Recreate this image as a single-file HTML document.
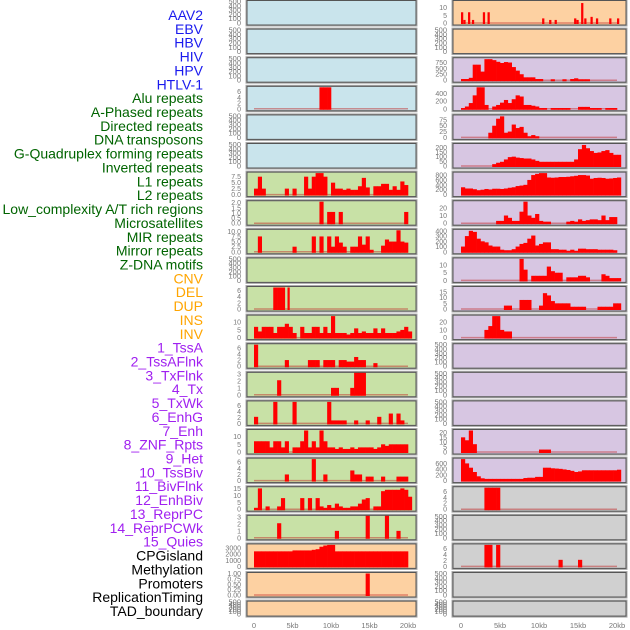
<!DOCTYPE html>
<html><head><meta charset="utf-8"><style>
html,body{margin:0;padding:0;background:#fff;width:630px;height:630px;overflow:hidden}
svg{display:block}
text{font-family:"Liberation Sans",sans-serif}
</style></head><body>
<svg id="chart" width="630" height="630" viewBox="0 0 630 630" xmlns="http://www.w3.org/2000/svg"></svg>
<script>
// ---- labels ----
const featureLabels = ["AAV2","EBV","HBV","HIV","HPV","HTLV-1","Alu repeats","A-Phased repeats","Directed repeats","DNA transposons","G-Quadruplex forming repeats","Inverted repeats","L1 repeats","L2 repeats","Low_complexity A/T rich regions","Microsatellites","MIR repeats","Mirror repeats","Z-DNA motifs","CNV","DEL","DUP","INS","INV","1_TssA","2_TssAFlnk","3_TxFlnk","4_Tx","5_TxWk","6_EnhG","7_Enh","8_ZNF_Rpts","9_Het","10_TssBiv","11_BivFlnk","12_EnhBiv","13_ReprPC","14_ReprPCWk","15_Quies","CPGisland","Methylation","Promoters","ReplicationTiming","TAD_boundary"];
const featureGroups = ["v","v","v","v","v","v","r","r","r","r","r","r","r","r","r","r","r","r","r","s","s","s","s","s","c","c","c","c","c","c","c","c","c","c","c","c","c","c","c","k","k","k","k","k"];
const xTickLabels = ["0","5kb","10kb","15kb","20kb"];
const xTickValues = [0,5,10,15,20];
const emptyTicks = [0,100,200,300,400,500];
// ---- panel backgrounds per row (left, right) ----
const leftBg  = ["b","b","b","b","b","b","g","g","g","g","g","g","g","g","g","g","g","g","g","o","o","o"];
const rightBg = ["o","o","p","p","p","p","p","p","p","p","p","p","p","p","p","p","p","y","y","y","y","y"];
// ---- series values (0.5kb bins unless "bins" given) ----
const r0R_pos = [0,0.3,0.9,1.4,2.8,3.4,10.4,11.3,12,14.5,14.8,15.4,15.8,16.6,17.3,19,20];
const r0R_vals = [7,2,7,2,7,7,3,2,2,3,2,13,3,4,3,3,3];
const r2R = [50,50,100,650,650,360,880,880,840,770,720,760,740,550,400,250,120,120,120,50,50,0,0,40,0,0,40,0,50,80,40,40,40];
const r3L_bins = [17,18,19]; const r3L_vals = [7.5,7.5,7.5];
const r3R = [20,60,150,350,560,560,100,0,60,100,160,230,150,250,350,320,100,100,80,60,20,20,0,20,20,20,20,20,0,0,50,50,50,20,20,20,0,20,20,20];
const r4R = [0,0,0,0,0,0,0,20,50,80,90,20,25,55,40,45,20,5,10,5];
const r5R = [0,0,0,0,0,0,0,0,20,35,45,70,95,100,90,85,80,80,70,55,45,45,45,45,45,45,45,45,45,70,180,225,190,160,140,145,160,170,140,120,120];
const r6L = [2.5,7.5,2.5,0,0,0,0,0,2.5,0,2.5,0,0,7.5,2.5,7.5,9,9,7.5,0,5,2.5,2.5,2,2.5,2,2,3.5,7,3,0,3.5,3.5,4.5,4.5,2,3.5,2,5.5,4];
const r6R = [300,250,250,220,180,200,230,210,240,240,230,250,280,300,350,370,400,600,800,850,880,880,700,690,700,720,720,730,750,770,800,800,780,650,680,690,680,650,660,680,700];
const r7L_bins = [17,19,20,22,39]; const r7L_vals = [2.1,1.1,1.1,1.1,1.1];
const r7R = [0,0,0,0,0,0,0,0,0,3,3,10,7,3,3,15,28,10,7,12,3,2,2,0,0,0,0,2,3,2,5,3,4,5,5,4,10,4,8,8];
const r8L_bins = [1,10,15,17,19,20,21,22,23,25,26,27,28,29,30,33,34,35,36,37,38,39];
const r8L_vals = [7.5,2.5,7.5,7.5,7.5,2.5,7.5,4.5,2.5,2.5,2.5,7.5,3.5,7.5,1,3,6,5,5,10.5,5,4.5];
const r8R = [100,300,400,380,250,200,180,120,100,100,40,30,30,50,100,150,170,250,310,120,150,180,180,50,50,40,40,20,40,20,60,60,50,50,50,40,40,40,40,30];
const r9R_bins = [15,16,18,19,20,21,22,23,24,25,27,28,29,30,31,32,36,37,38,39,40];
const r9R_vals = [14,7,3,3,3,3,9,6,5,5,2,2,2,3,3,2,4,3,1.5,1.5,1.5];
const r10L_bins = [5,6,7]; const r10L_vals = [7,7,7];
const r10L_pos = [4.35]; const r10L_spk = [7];
const r10R = [0,0,0,0,0,0,0,0,0,0,0,3,3,0,0,8,8,8,0,0,3,14,12,7,5,5,5,5,2,2,2,2,0,0,0,2,2,2,2,5,5];
const r11L = [7,4,7,7,7,3,7,7,9,7,3,0,7,3,3,7,7,3,7,3,14,3,3,3,2,3,6,3,4,3,3,6,3,6,3,3,3,4,5,7,4];
const r11R_bins = [6,7,8,9,10,11,12]; const r11R_vals = [10,15,28,28,10,8,8];
const r12L_bins = [0,8,14,15,16,18,19,20,22,23,24,25,26,27,28,31];
const r12L_vals = [7,2,2,2,2,2,2,2,2,2,1.5,1.5,3,2,2,1];
const r13L_bins = [6,20,21,25,26,27,28]; const r13L_vals = [2.1,1,1,1,3.2,3.2,3.2];
const r14L_bins = [0,5,10,19,20,21,22,23,26,29,32,35,37,38];
const r14L_vals = [2.2,7.2,7.2,7.2,1,1,1,1,1,1,2.2,3.3,3.3,1];
const r15L = [7,7,7,7,3,7,7,3,7,0,3,3,7,14,3,7,3,14,7,3,3,2,3,2,2,3,2,3,3,3,3,2,3,5,4,5,5,5,5,5];
const r15R_bins = [0,1,2,3,20,21,22]; const r15R_vals = [15,12,22,8,2.5,2.5,2.5];
const r16L_bins = [8,15,18,25,26,27,29,30,33,37,38,39]; const r16L_vals = [2,7,2,3.3,2,2,1.3,1.3,1.3,1.3,1.3,1.3];
const r16R = [750,600,450,300,150,80,60,60,60,60,60,60,60,60,60,60,90,100,100,130,130,450,450,430,420,410,390,370,340,300,320,360,360,360,360,360,360,360,360,360,380];
const r17L = [1,15,0,2,0,0,2,8,0,0,0,0,8,0,8,0,8,2,1,3,1,4,2,1,1,2,2,4,7,8,0,2,2,13,14,14,14,14,15,14,9];
const r17R_bins = [6,7,8,9]; const r17R_vals = [7.2,7.2,7.2,7.2];
const r18L_bins = [6,21,29,34,37]; const r18L_vals = [2.1,1,3.2,3.2,1];
const r19L = [2450,2450,2450,2450,2450,2450,2450,2450,2450,2450,2600,2600,2600,2600,2600,2700,2800,3200,3400,3500,3500,2450,2450,2450,2450,2450,2450,2450,2450,2450,2450,2450,2450,2450,2450,2450,2450,2450,2450,2450];
const r19R_bins = [6,7,9,25,30]; const r19R_vals = [7.2,7.2,7.2,2.2,2.2];
const r20L_bins = [29]; const r20L_vals = [1];

const E = {max:500, ticks:emptyTicks};
const T0 = [0,2,4,6], T10=[0,5,10];
const panelsL = [
 E,E,E,
 {max:7.5,ticks:T0,bins:r3L_bins,vals:r3L_vals},
 E,E,
 {max:9,ticks:[0,2.5,5,7.5],fmt:1,dense:r6L},
 {max:2.1,ticks:[0,0.5,1,1.5,2],fmt:1,bins:r7L_bins,vals:r7L_vals},
 {max:10.5,ticks:[0,2.5,5,7.5,10],fmt:1,bins:r8L_bins,vals:r8L_vals},
 E,
 {max:7,ticks:T0,bins:r10L_bins,vals:r10L_vals,pos:r10L_pos,spk:r10L_spk},
 {max:14,ticks:T10,dense:r11L},
 {max:7,ticks:T0,bins:r12L_bins,vals:r12L_vals},
 {max:3.1,ticks:[0,1,2,3],bins:r13L_bins,vals:r13L_vals},
 {max:7.2,ticks:T0,bins:r14L_bins,vals:r14L_vals},
 {max:14,ticks:T10,dense:r15L},
 {max:7,ticks:T0,bins:r16L_bins,vals:r16L_vals},
 {max:15.5,ticks:[0,5,10,15],dense:r17L},
 {max:3.1,ticks:[0,1,2,3],bins:r18L_bins,vals:r18L_vals},
 {max:3500,ticks:[0,1000,2000,3000],dense:r19L},
 {max:1,ticks:[0,0.25,0.5,0.75,1],fmt:2,bins:r20L_bins,vals:r20L_vals},
 E
];
const panelsR = [
 {max:14,ticks:T10,pos:r0R_pos,spk:r0R_vals},
 E,
 {max:900,ticks:[0,250,500,750],dense:r2R},
 {max:560,ticks:[0,200,400],dense:r3R},
 {max:92,ticks:[0,25,50,75],dense:r4R},
 {max:230,ticks:[0,50,100,150,200],dense:r5R},
 {max:880,ticks:[0,200,400,600,800],dense:r6R},
 {max:28,ticks:[0,10,20],dense:r7R},
 {max:410,ticks:[0,100,200,300,400],dense:r8R},
 {max:14,ticks:T10,bins:r9R_bins,vals:r9R_vals},
 {max:19,ticks:[0,5,10,15],dense:r10R},
 {max:28,ticks:[0,10,20],bins:r11R_bins,vals:r11R_vals},
 E,E,E,
 {max:22,ticks:[0,5,10,15,20],bins:r15R_bins,vals:r15R_vals},
 {max:750,ticks:[0,200,400,600],dense:r16R},
 {max:7.2,ticks:T0,bins:r17R_bins,vals:r17R_vals},
 E,
 {max:7.2,ticks:T0,bins:r19R_bins,vals:r19R_vals},
 E,E
];
const bgColors = {b:"#c9e4ec",g:"#c8e1a6",o:"#fdd1a2",p:"#d7c6e2",y:"#d0d0d0"};
const groupColors = {v:"#1a1aee",r:"#006400",s:"#ffa500",c:"#a020f0",k:"#000000"};

const svg = document.getElementById('chart');
const NS = "http://www.w3.org/2000/svg";
function mk(tag, attrs, parent){
  const e = document.createElementNS(NS, tag);
  for (const k in attrs) e.setAttribute(k, attrs[k]);
  (parent||svg).appendChild(e);
  return e;
}
featureLabels.forEach((lab,i)=>{
  const t = mk('text',{x:203,y:15+i*13.86+5,'text-anchor':'end','font-size':14,fill:groupColors[featureGroups[i]]});
  t.textContent = lab;
  
  
});
const cols = [
  {x0:247,x1:416,ox:254,k:7.7,tx:241,panels:panelsL,bg:leftBg,name:'left'},
  {x0:453,x1:626,ox:461,k:7.8,tx:447,panels:panelsR,bg:rightBg,name:'right'}
];
function fmtTick(v,f){ return f ? v.toFixed(f) : String(v); }
cols.forEach(col=>{
  col.panels.forEach((p,r)=>{
    const top = 0.5 + 28.6*r;
    const h = r===21 ? 15 : 24.5;
    const g = mk('g',{});
    
    
    mk('rect',{x:col.x0-0.5,y:top-0.5,width:col.x1-col.x0+1,height:h+1,fill:bgColors[col.bg[r]],stroke:'#aaa','stroke-width':2},g);
    const y0 = top + h - 2, yTop = top + 1;
    const ys = v => y0 - (v/p.max)*(y0-yTop);
    const xs = kb => col.ox + kb*col.k;
    const fs = p.max===500 ? 7.5 : 7;
    p.ticks.forEach(tv=>{
      const t = mk('text',{x:col.tx,y:ys(tv)+2.5,'text-anchor':'end','font-size':fs,fill:'#777'},g);
      t.textContent = fmtTick(tv,p.fmt);
      
      
    });
    if (p !== E) {
      const bl = mk('line',{x1:xs(0),x2:xs(20),y1:y0,y2:y0,stroke:'rgba(190,30,30,0.45)','stroke-width':1.5},g);
      
      
    }
    const bar = (kb,w,v)=>{
      if(!v) return;
      const b = mk('rect',{x:xs(kb),y:ys(v),width:w*col.k+0.3,height:y0-ys(v)+1,fill:'#ff0000'},g);
      
      
    };
    if (p.dense) p.dense.forEach((v,i)=>bar(i*0.5,0.5,v));
    if (p.bins) p.bins.forEach((bi,j)=>bar(bi*0.5,0.5,p.vals[j]));
    if (p.pos) p.pos.forEach((kb,j)=>bar(kb,0.25,p.spk[j]));
    mk('rect',{x:col.x0,y:top,width:col.x1-col.x0,height:h,fill:'none',stroke:'#555','stroke-width':1},g);
  });
  xTickValues.forEach((v,i)=>{
    const t = mk('text',{x:col.ox+v*col.k,y:628,'text-anchor':'middle','font-size':7.5,fill:'#777'});
    t.textContent = xTickLabels[i];
    
    
  });
});
</script>
</body></html>
